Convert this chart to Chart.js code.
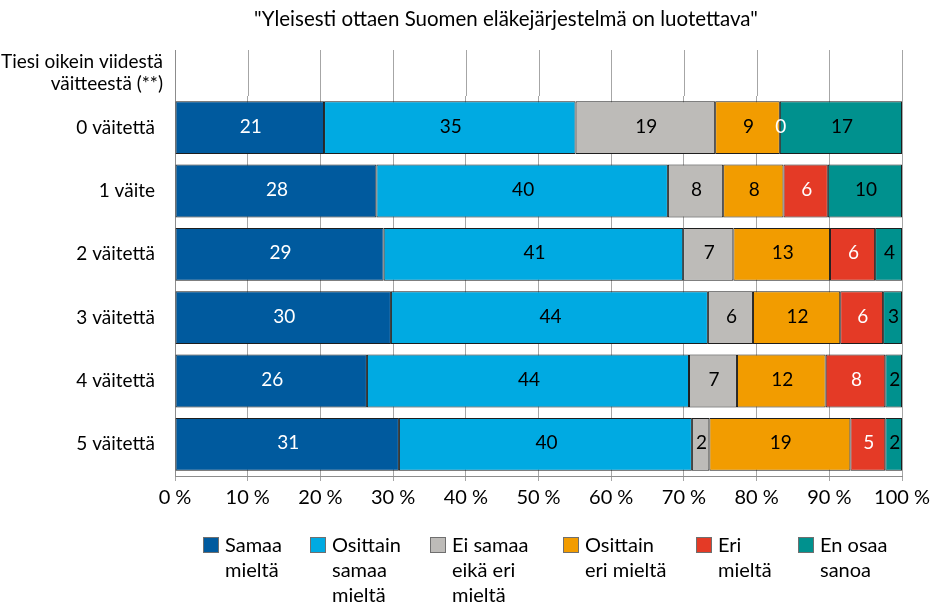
<!DOCTYPE html>
<html>
<head>
<meta charset="utf-8">
<script src="https://cdn.jsdelivr.net/npm/chart.js@4/dist/chart.umd.min.js"></script>
<style>
  html, body { margin: 0; padding: 0; background: #fff; }
  canvas { display: block; }
</style>
</head>
<body>
<canvas id="chart" width="949" height="607"></canvas>
<script>
const title = '"Yleisesti ottaen Suomen eläkejärjestelmä on luotettava"';
const axisHeader = ['Tiesi oikein viidestä', 'väitteestä (**)'];
const categories = ['0 väitettä', '1 väite', '2 väitettä', '3 väitettä', '4 väitettä', '5 väitettä'];

const samaa = [20.5, 27.7, 28.7, 29.7, 26.4, 30.8];
const osittainSamaa = [34.6, 40.1, 41.2, 43.6, 44.3, 40.3];
const eiSamaaEikaEri = [19.2, 7.6, 6.9, 6.2, 6.6, 2.4];
const osittainEri = [8.9, 8.3, 13.3, 12.0, 12.2, 19.4];
const eri = [0, 6.1, 6.2, 5.9, 8.2, 4.8];
const enOsaa = [16.8, 10.2, 3.7, 2.6, 2.3, 2.3];

const seriesNames = [
    ['Samaa', 'mieltä'],
    ['Osittain', 'samaa', 'mieltä'],
    ['Ei samaa', 'eikä eri', 'mieltä'],
    ['Osittain', 'eri mieltä'],
    ['Eri', 'mieltä'],
    ['En osaa', 'sanoa']
];
const xTicks = [0, 10, 20, 30, 40, 50, 60, 70, 80, 90, 100];

const FONT = "Lato, 'DejaVu Sans Condensed', sans-serif";
const FSIZE = 19;
const colors = ['#005a9e', '#00aae2', '#bdbbb8', '#f29c00', '#e43a26', '#00918e'];
const labelColors = ['#fff', '#000', '#000', '#000', '#fff', '#000'];
const values = [samaa, osittainSamaa, eiSamaaEikaEri, osittainEri, eri, enOsaa];

// legend placement (box left edges)
const legendX = [203, 310, 430, 563, 696, 798];

const extrasPlugin = {
    id: 'extras',
    afterDatasetsDraw(chart) {
        const ctx = chart.ctx;
        ctx.save();
        ctx.font = FSIZE + 'px ' + FONT;
        ctx.textAlign = 'center';
        ctx.textBaseline = 'middle';
        chart.data.datasets.forEach((ds, i) => {
            const meta = chart.getDatasetMeta(i);
            meta.data.forEach((bar, j) => {
                const v = ds.data[j];
                if (v === null || v === undefined) return;
                ctx.fillStyle = labelColors[i];
                ctx.fillText(String(Math.round(v)), (bar.x + bar.base) / 2 + 1, bar.y - 1);
            });
        });
        ctx.restore();
    },
    afterDraw(chart) {
        const ctx = chart.ctx;
        const area = chart.chartArea;
        const x = chart.scales.x;
        ctx.save();

        // grid lines continue up past the header row
        ctx.lineWidth = 1;
        xTicks.forEach(t => {
            const px = Math.round(x.getPixelForValue(t)) + 0.5;
            ctx.strokeStyle = t === 0 ? '#8c8c8c' : '#a6a6a6';
            ctx.beginPath();
            ctx.moveTo(px, 50);
            ctx.lineTo(px, area.top);
            ctx.stroke();
        });

        // title
        ctx.fillStyle = '#000';
        ctx.font = '20.5px ' + FONT;
        ctx.textAlign = 'center';
        ctx.textBaseline = 'middle';
        ctx.fillText(title, 506, 19);

        // header of the category axis
        ctx.font = FSIZE + 'px ' + FONT;
        ctx.textAlign = 'right';
        ctx.fillText(axisHeader[0], 163, 62);
        ctx.fillText(axisHeader[1], 163, 84);

        // legend
        ctx.font = '20px ' + FONT;
        ctx.textAlign = 'left';
        seriesNames.forEach((lines, i) => {
            const bx = legendX[i];
            ctx.fillStyle = colors[i];
            ctx.fillRect(bx, 537, 16, 16);
            ctx.strokeStyle = '#6f6f6f';
            ctx.strokeRect(bx + 0.5, 537.5, 15, 15);
            ctx.fillStyle = '#000';
            lines.forEach((line, k) => {
                ctx.fillText(line, bx + 22, 546 + k * 24.6);
            });
        });
        ctx.restore();
    }
};

new Chart(document.getElementById('chart').getContext('2d'), {
    type: 'bar',
    data: {
        labels: categories,
        datasets: values.map((data, i) => ({
            label: seriesNames[i].join(' '),
            data: data,
            backgroundColor: colors[i],
            borderColor: '#1e1e1e',
            borderWidth: 1,
            borderSkipped: false,
            categoryPercentage: 1,
            barPercentage: 0.835
        }))
    },
    options: {
        indexAxis: 'y',
        responsive: false,
        animation: false,
        layout: { padding: { top: 96, right: 47, left: 0, bottom: 0 } },
        scales: {
            x: {
                stacked: true,
                min: 0,
                max: 100,
                afterBuildTicks: (scale) => { scale.ticks = xTicks.map(v => ({ value: v })); },
                afterFit: (scale) => { scale.height = 131; },
                ticks: {
                    callback: (v) => v + '\u2005%',
                    color: '#000',
                    font: { family: FONT, size: 20 },
                    padding: 5,
                    maxRotation: 0
                },
                grid: { color: '#a6a6a6', tickLength: 5 },
                border: { color: '#8c8c8c' }
            },
            y: {
                stacked: true,
                afterFit: (scale) => { scale.width = 175; },
                ticks: {
                    color: '#000',
                    font: { family: FONT, size: FSIZE },
                    padding: 12
                },
                grid: { display: false },
                border: { color: '#8c8c8c' }
            }
        },
        plugins: {
            legend: { display: false },
            tooltip: { enabled: false },
            title: { display: false }
        }
    },
    plugins: [extrasPlugin]
});
</script>
</body>
</html>
